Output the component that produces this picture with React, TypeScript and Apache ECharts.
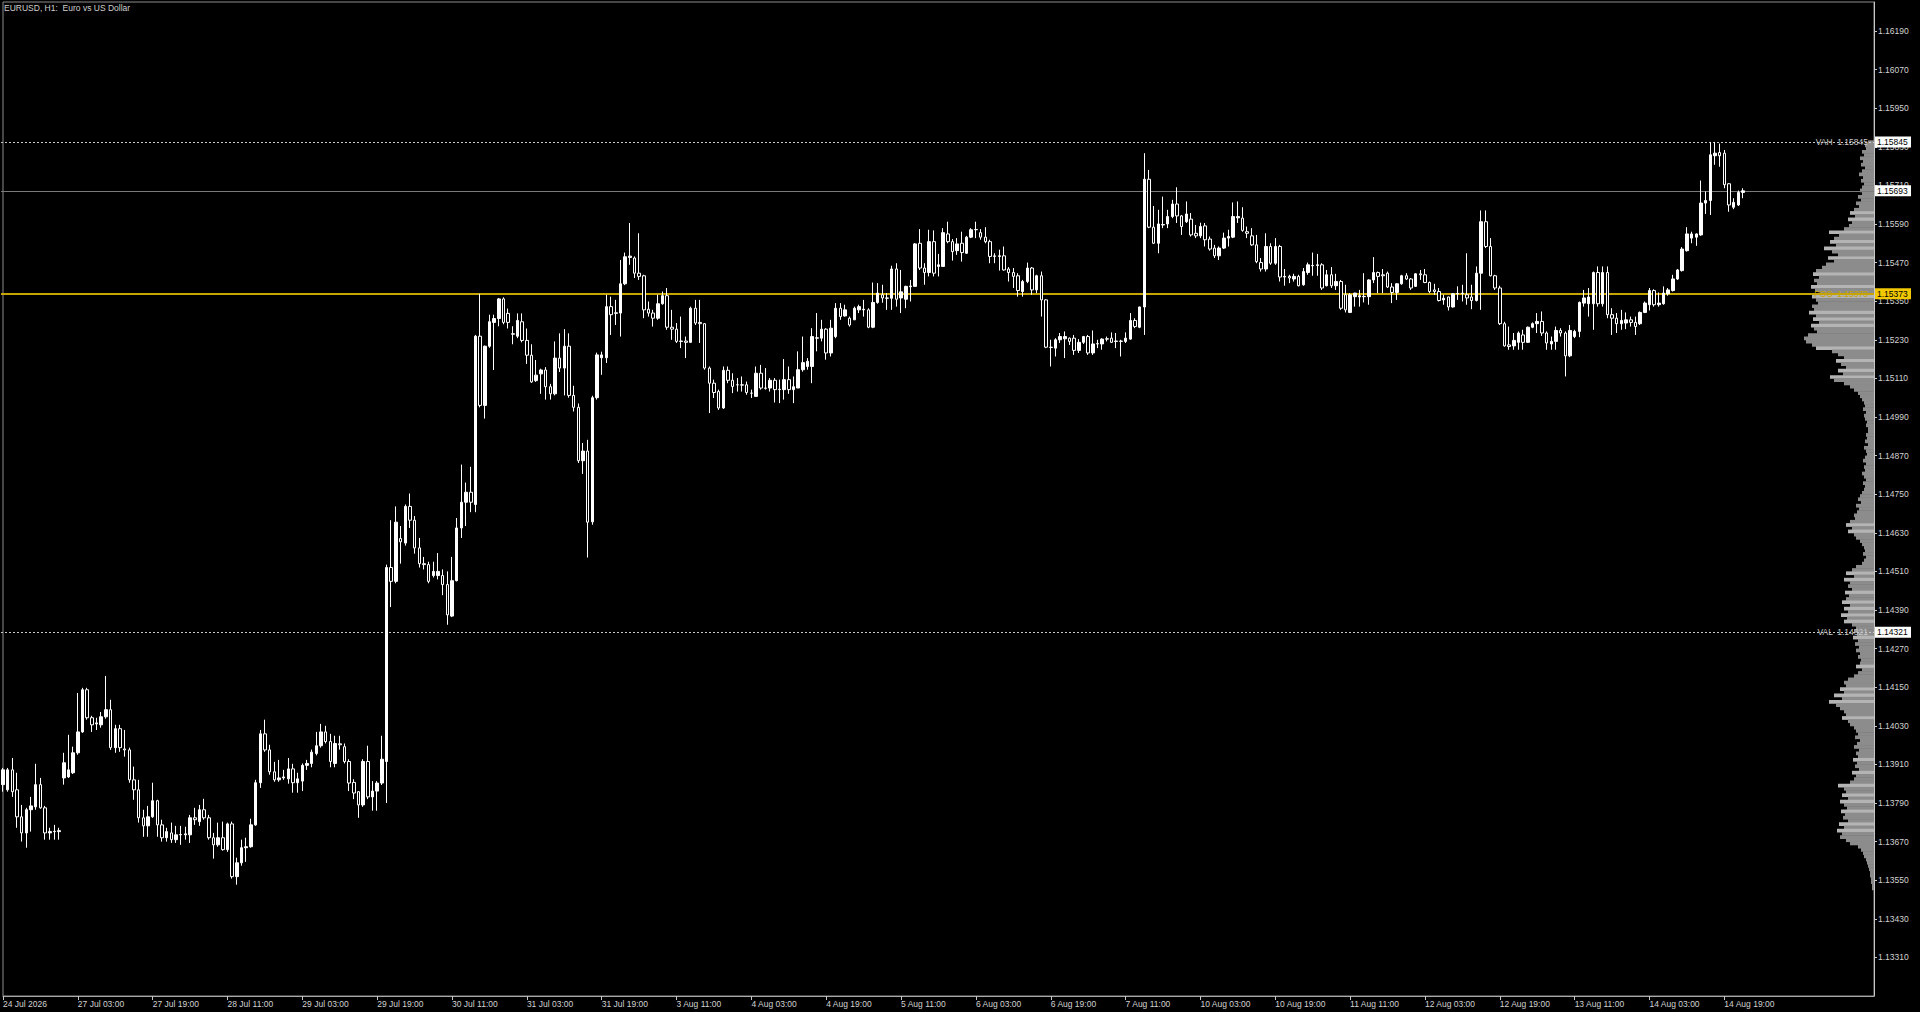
import React, { useEffect, useRef } from "react";
import * as echarts from "echarts";

const TITLE = "EURUSD, H1:  Euro vs US Dollar";

const TIME_LABELS = [
  "24 Jul 2026", "27 Jul 03:00", "27 Jul 19:00", "28 Jul 11:00", "29 Jul 03:00", "29 Jul 19:00",
  "30 Jul 11:00", "31 Jul 03:00", "31 Jul 19:00", "3 Aug 11:00", "4 Aug 03:00", "4 Aug 19:00",
  "5 Aug 11:00", "6 Aug 03:00", "6 Aug 19:00", "7 Aug 11:00", "10 Aug 03:00", "10 Aug 19:00",
  "11 Aug 11:00", "12 Aug 03:00", "12 Aug 19:00", "13 Aug 11:00", "14 Aug 03:00", "14 Aug 19:00",
];
const LABEL_EVERY = 16; // one time label every 16 hourly bars
const SLOT_COUNT = 401; // hourly slots across the visible window (incl. right shift)

const Y_MIN = 1.1319;
const Y_MAX = 1.1628;
const Y_STEP = 0.0012;

// Levels
const VAH = 1.15845;
const BID = 1.15693;
const POC = 1.15373;
const VAL = 1.14321;

// Candles: [open, close, low, high]
const FRI_24_JUL = [
  [1.13847, 1.13893, 1.13825, 1.13899], [1.13831, 1.13893, 1.13825, 1.13899], [1.13893, 1.13825, 1.13809, 1.1393],
  [1.13831, 1.13747, 1.13713, 1.13884], [1.13747, 1.13697, 1.1367, 1.13784], [1.13697, 1.13769, 1.13651, 1.13775],
  [1.13769, 1.13781, 1.13701, 1.13809], [1.13778, 1.13847, 1.13769, 1.13912], [1.13847, 1.13775, 1.13772, 1.13868],
  [1.13775, 1.13697, 1.13676, 1.13781], [1.13697, 1.13701, 1.13676, 1.13713], [1.13701, 1.13702, 1.13676, 1.13722],
  [1.13701, 1.13704, 1.13676, 1.13713],
];

const WEEK_27_JUL = [
  [1.13868, 1.13915, 1.13847, 1.13946], [1.13871, 1.13893, 1.13868, 1.14002], [1.13884, 1.13946, 1.1388, 1.13965],
  [1.13946, 1.14011, 1.1394, 1.14132], [1.14011, 1.14142, 1.14008, 1.14148], [1.14142, 1.14055, 1.14049, 1.14148],
  [1.14055, 1.14033, 1.14011, 1.14061], [1.14036, 1.14039, 1.14017, 1.14055], [1.14033, 1.14058, 1.14024, 1.14073],
  [1.14058, 1.1408, 1.14052, 1.14185], [1.1408, 1.13962, 1.13955, 1.14111], [1.13962, 1.14021, 1.13946, 1.14033],
  [1.14021, 1.13962, 1.13949, 1.14033], [1.13958, 1.13955, 1.13934, 1.14017], [1.13955, 1.13862, 1.13853, 1.13962],
  [1.13862, 1.13831, 1.138, 1.13903], [1.13831, 1.13744, 1.13729, 1.13862], [1.13744, 1.13719, 1.13685, 1.13769],
  [1.13719, 1.13747, 1.13685, 1.13781], [1.13747, 1.13797, 1.13744, 1.13853], [1.13797, 1.13722, 1.13685, 1.138],
  [1.13722, 1.13682, 1.1367, 1.13738], [1.13682, 1.13701, 1.1367, 1.13713], [1.13697, 1.13676, 1.13666, 1.13729],
  [1.13676, 1.13691, 1.13666, 1.13719], [1.13691, 1.13692, 1.1366, 1.13719], [1.13691, 1.13694, 1.13676, 1.13716],
  [1.13691, 1.13744, 1.13666, 1.13753], [1.13744, 1.13738, 1.13722, 1.13775], [1.13732, 1.13769, 1.13719, 1.13784],
  [1.13769, 1.13744, 1.13738, 1.13803], [1.13744, 1.13682, 1.13676, 1.13753], [1.13682, 1.1366, 1.13617, 1.13697],
  [1.1366, 1.13682, 1.13654, 1.13729], [1.13682, 1.13645, 1.13642, 1.13732], [1.13645, 1.13725, 1.13638, 1.13729],
  [1.13725, 1.13561, 1.13555, 1.13732], [1.13561, 1.13604, 1.13536, 1.1362], [1.13604, 1.13651, 1.13595, 1.13676],
  [1.13651, 1.13654, 1.13607, 1.13682], [1.13654, 1.13722, 1.13651, 1.13741], [1.13722, 1.13853, 1.13719, 1.13862],
  [1.13853, 1.14005, 1.13837, 1.14017], [1.14005, 1.13955, 1.13949, 1.14049], [1.13955, 1.13887, 1.13878, 1.13971],
  [1.13887, 1.13862, 1.13856, 1.13918], [1.13862, 1.13868, 1.13856, 1.13924], [1.13868, 1.13871, 1.13862, 1.13893],
  [1.13865, 1.13896, 1.1385, 1.1393], [1.13896, 1.13853, 1.13822, 1.13912], [1.13853, 1.13865, 1.13822, 1.13884],
  [1.13858, 1.13907, 1.13827, 1.13913], [1.13907, 1.13913, 1.13893, 1.13924], [1.13913, 1.13948, 1.13901, 1.13956],
  [1.13944, 1.13968, 1.13938, 1.14011], [1.13968, 1.14011, 1.13962, 1.14036], [1.14011, 1.13981, 1.13975, 1.1403],
  [1.13981, 1.13919, 1.13901, 1.14005], [1.13913, 1.13975, 1.13901, 1.13999], [1.13974, 1.13971, 1.13956, 1.13999],
  [1.13965, 1.13919, 1.13913, 1.13975], [1.13919, 1.13852, 1.13827, 1.13926], [1.13854, 1.13821, 1.13802, 1.13864],
  [1.13825, 1.13784, 1.13744, 1.13827], [1.13784, 1.13919, 1.13778, 1.13926], [1.13919, 1.13809, 1.13802, 1.13968],
  [1.13809, 1.13827, 1.13766, 1.13858], [1.13827, 1.13852, 1.13766, 1.13858], [1.13852, 1.13926, 1.13846, 1.13999],
  [1.13919, 1.14522, 1.1379, 1.14531], [1.14522, 1.14479, 1.14399, 1.14669], [1.14479, 1.14663, 1.14473, 1.14712],
  [1.14612, 1.14602, 1.14534, 1.14651], [1.14598, 1.14712, 1.1459, 1.14718], [1.14712, 1.14669, 1.14645, 1.14752],
  [1.14669, 1.14583, 1.14565, 1.14682], [1.14583, 1.14534, 1.14522, 1.14614], [1.14534, 1.14531, 1.14516, 1.14555],
  [1.14531, 1.14479, 1.14473, 1.1454], [1.14497, 1.1451, 1.14491, 1.1454], [1.14497, 1.1451, 1.14485, 1.14567],
  [1.14497, 1.14469, 1.14436, 1.14516], [1.14469, 1.14375, 1.14344, 1.1451], [1.14371, 1.14481, 1.14368, 1.14555],
  [1.14481, 1.14645, 1.14479, 1.14676], [1.14645, 1.14725, 1.14614, 1.14842], [1.14725, 1.14756, 1.14651, 1.14786],
  [1.14756, 1.14725, 1.14694, 1.14835], [1.14718, 1.15241, 1.14694, 1.15245], [1.15241, 1.15026, 1.1502, 1.15373],
  [1.15026, 1.1521, 1.14985, 1.15212], [1.1521, 1.15286, 1.15205, 1.15308], [1.15284, 1.15296, 1.15136, 1.15308],
  [1.15296, 1.15357, 1.15272, 1.1536], [1.15357, 1.15284, 1.15278, 1.15362], [1.15312, 1.15284, 1.15265, 1.15327],
  [1.15249, 1.15247, 1.15216, 1.15272], [1.15241, 1.1529, 1.15235, 1.15312], [1.15286, 1.15228, 1.15222, 1.15312],
  [1.15228, 1.15182, 1.15155, 1.15265], [1.15182, 1.15099, 1.15096, 1.15216], [1.15103, 1.1512, 1.15099, 1.15167],
  [1.15124, 1.15136, 1.15062, 1.1514], [1.15136, 1.15084, 1.15044, 1.15145], [1.15084, 1.15062, 1.15044, 1.15093],
  [1.15062, 1.15173, 1.15057, 1.15225], [1.15173, 1.15142, 1.1513, 1.1525], [1.15142, 1.1521, 1.15057, 1.15263],
  [1.1521, 1.15057, 1.1505, 1.1525], [1.15057, 1.1502, 1.15007, 1.15087], [1.1502, 1.14854, 1.14847, 1.15032],
  [1.14854, 1.14884, 1.14813, 1.14909], [1.14884, 1.14663, 1.14553, 1.14919], [1.14664, 1.1505, 1.14655, 1.15056],
  [1.1505, 1.15183, 1.15044, 1.1519], [1.15174, 1.15183, 1.15121, 1.15193], [1.15174, 1.15333, 1.15158, 1.1537],
  [1.15333, 1.15308, 1.15245, 1.15364], [1.15314, 1.15312, 1.15276, 1.15354], [1.15313, 1.15404, 1.1524, 1.15478],
];

const WEEK_3_AUG = [
  [1.15404, 1.15488, 1.154, 1.15501], [1.15486, 1.1549, 1.15463, 1.15593], [1.15484, 1.15437, 1.15422, 1.15489],
  [1.15437, 1.15427, 1.15416, 1.15561], [1.15429, 1.15323, 1.15297, 1.15432], [1.15325, 1.15313, 1.15302, 1.15349],
  [1.15313, 1.15297, 1.15271, 1.15323], [1.15297, 1.15342, 1.15292, 1.1537], [1.15342, 1.15367, 1.15339, 1.1538],
  [1.15367, 1.15269, 1.15261, 1.15391], [1.15269, 1.15263, 1.1523, 1.15323], [1.15263, 1.15225, 1.1522, 1.15282],
  [1.15225, 1.15226, 1.15204, 1.15302], [1.15226, 1.15222, 1.15173, 1.1524], [1.15222, 1.15328, 1.1522, 1.15333],
  [1.15328, 1.15282, 1.15276, 1.15354], [1.15284, 1.1528, 1.1522, 1.15354], [1.1528, 1.15142, 1.15137, 1.15282],
  [1.15142, 1.15095, 1.15002, 1.15147], [1.15095, 1.15066, 1.15049, 1.15106], [1.15069, 1.15018, 1.15012, 1.15075],
  [1.15018, 1.15135, 1.15015, 1.15147], [1.15135, 1.15104, 1.15095, 1.15147], [1.15104, 1.15085, 1.15064, 1.15126],
  [1.1509, 1.1509, 1.15069, 1.15111], [1.1509, 1.15089, 1.15069, 1.15116], [1.1509, 1.15066, 1.15059, 1.151],
  [1.15064, 1.15064, 1.15049, 1.15075], [1.15054, 1.15126, 1.15054, 1.15147], [1.15126, 1.1508, 1.15075, 1.15152],
  [1.1508, 1.15079, 1.15075, 1.15142], [1.1508, 1.15104, 1.15069, 1.15111], [1.15104, 1.15075, 1.15035, 1.15111],
  [1.15075, 1.15076, 1.15033, 1.15106], [1.15075, 1.15106, 1.15044, 1.1517], [1.15106, 1.15075, 1.15062, 1.15147],
  [1.15075, 1.15084, 1.15033, 1.15116], [1.1508, 1.15137, 1.1508, 1.15194], [1.15137, 1.15159, 1.15131, 1.1524],
  [1.15147, 1.15163, 1.15137, 1.15173], [1.15147, 1.1524, 1.15095, 1.15266], [1.15235, 1.15236, 1.15194, 1.15313],
  [1.15235, 1.15263, 1.15225, 1.15292], [1.15263, 1.15189, 1.15168, 1.15266], [1.15189, 1.15266, 1.15178, 1.15292],
  [1.1524, 1.15328, 1.15235, 1.15344], [1.15328, 1.15302, 1.15292, 1.15344], [1.15304, 1.15323, 1.15302, 1.15339],
  [1.15297, 1.15276, 1.15271, 1.15302], [1.15292, 1.15328, 1.15292, 1.15333], [1.15323, 1.15333, 1.15313, 1.15339],
  [1.15323, 1.15325, 1.15302, 1.15354], [1.15323, 1.15269, 1.15266, 1.15328], [1.15269, 1.15346, 1.15266, 1.15408],
  [1.15346, 1.15375, 1.15342, 1.15406], [1.1537, 1.1536, 1.15345, 1.15401], [1.1536, 1.15359, 1.15323, 1.15375],
  [1.15359, 1.1545, 1.15323, 1.1546], [1.1545, 1.15356, 1.15333, 1.15468], [1.1536, 1.15379, 1.15313, 1.15447],
  [1.15356, 1.15396, 1.15328, 1.15398], [1.15395, 1.15397, 1.15349, 1.15416], [1.15396, 1.15528, 1.15395, 1.15531],
  [1.1553, 1.15453, 1.15447, 1.15574], [1.15453, 1.15439, 1.15401, 1.15468], [1.15439, 1.15535, 1.15427, 1.15572],
  [1.15535, 1.15437, 1.15427, 1.1557], [1.15458, 1.15463, 1.15427, 1.15497], [1.15458, 1.15563, 1.15458, 1.15577],
  [1.15559, 1.15535, 1.1553, 1.15597], [1.15535, 1.15504, 1.15476, 1.15543], [1.15507, 1.15528, 1.15494, 1.15546],
  [1.1553, 1.15501, 1.15473, 1.15566], [1.15499, 1.15549, 1.15497, 1.15553], [1.15549, 1.15572, 1.15546, 1.15577],
  [1.15572, 1.15573, 1.15546, 1.15597], [1.15563, 1.15549, 1.15541, 1.15574], [1.15549, 1.15535, 1.1553, 1.1558],
  [1.15535, 1.15489, 1.15468, 1.15541], [1.15491, 1.15489, 1.15468, 1.15499], [1.15489, 1.15491, 1.15445, 1.1551],
  [1.15491, 1.15447, 1.15445, 1.1552], [1.1545, 1.15439, 1.15411, 1.15456], [1.15439, 1.15427, 1.15391, 1.15453],
  [1.15429, 1.15383, 1.15364, 1.15437], [1.1538, 1.15411, 1.15364, 1.15416], [1.15411, 1.15453, 1.15406, 1.1547],
  [1.15453, 1.15385, 1.1537, 1.15456], [1.15385, 1.15429, 1.15375, 1.15432], [1.15429, 1.15354, 1.15302, 1.15442],
  [1.15354, 1.15207, 1.15204, 1.15356], [1.15207, 1.15206, 1.15147, 1.1523], [1.15204, 1.1523, 1.15178, 1.15235],
  [1.1523, 1.1524, 1.1522, 1.15251], [1.15233, 1.1524, 1.15173, 1.15256], [1.15235, 1.15225, 1.15214, 1.15237],
  [1.15235, 1.15197, 1.15183, 1.15245], [1.15197, 1.15222, 1.15189, 1.15232], [1.15222, 1.1524, 1.15217, 1.15242],
  [1.1524, 1.15189, 1.15183, 1.15245], [1.15189, 1.15217, 1.15183, 1.15259], [1.15217, 1.15218, 1.15204, 1.1523],
  [1.15217, 1.15232, 1.15199, 1.15235], [1.15232, 1.15233, 1.15225, 1.1524], [1.15235, 1.15222, 1.1522, 1.15253],
  [1.15225, 1.15226, 1.15204, 1.15251], [1.15226, 1.15225, 1.15178, 1.1523], [1.15225, 1.15235, 1.1522, 1.15253],
  [1.15232, 1.1529, 1.1523, 1.15313], [1.1529, 1.15271, 1.15266, 1.15297], [1.15269, 1.15332, 1.15266, 1.15333],
  [1.15332, 1.15729, 1.15245, 1.1581], [1.15729, 1.1558, 1.15577, 1.15758], [1.1558, 1.1553, 1.15528, 1.15646],
  [1.1553, 1.1559, 1.15499, 1.15634], [1.15587, 1.15588, 1.15577, 1.15675], [1.1559, 1.15613, 1.15577, 1.15634],
  [1.15613, 1.15652, 1.15608, 1.15665], [1.15652, 1.15615, 1.15593, 1.15704], [1.15615, 1.15582, 1.15556, 1.15618],
];

const WEEK_10_AUG = [
  [1.15597, 1.15621, 1.15593, 1.1566], [1.15605, 1.15556, 1.15551, 1.15624], [1.15561, 1.15553, 1.15546, 1.15587],
  [1.15553, 1.15582, 1.15546, 1.15594], [1.15584, 1.15541, 1.1552, 1.15593], [1.15543, 1.15512, 1.15507, 1.15551],
  [1.15515, 1.15491, 1.15484, 1.15525], [1.15491, 1.15515, 1.15478, 1.1552], [1.15515, 1.15546, 1.15512, 1.15563],
  [1.15546, 1.15551, 1.1552, 1.15572], [1.15549, 1.15613, 1.15546, 1.15657], [1.15609, 1.15613, 1.15593, 1.1566],
  [1.15608, 1.1557, 1.15566, 1.15642], [1.15566, 1.15561, 1.15546, 1.15582], [1.15553, 1.15525, 1.15522, 1.15577],
  [1.15525, 1.15473, 1.15468, 1.15556], [1.1547, 1.1545, 1.15442, 1.15484], [1.1545, 1.1552, 1.15442, 1.15561],
  [1.1552, 1.15468, 1.15463, 1.1553], [1.15468, 1.1552, 1.15463, 1.15546], [1.1552, 1.15425, 1.15411, 1.15525],
  [1.15425, 1.15427, 1.15398, 1.1545], [1.15427, 1.15422, 1.15406, 1.15432], [1.15419, 1.15427, 1.15411, 1.15435],
  [1.15427, 1.15398, 1.15396, 1.15432], [1.15401, 1.15442, 1.15398, 1.15453], [1.15439, 1.15463, 1.15432, 1.1547],
  [1.1546, 1.15461, 1.15429, 1.15501], [1.15461, 1.15463, 1.15429, 1.15497], [1.15463, 1.15391, 1.15385, 1.15468],
  [1.15398, 1.15432, 1.15396, 1.15447], [1.15432, 1.15398, 1.15391, 1.15456], [1.15398, 1.15411, 1.15385, 1.15435],
  [1.15411, 1.15328, 1.15323, 1.15416], [1.1537, 1.15323, 1.15315, 1.15401], [1.15315, 1.1537, 1.15313, 1.15375],
  [1.15364, 1.15375, 1.15333, 1.15376], [1.15363, 1.15367, 1.15333, 1.15385], [1.15364, 1.15365, 1.15346, 1.15437],
  [1.15364, 1.15416, 1.15339, 1.15418], [1.15416, 1.15439, 1.15406, 1.15487], [1.15439, 1.15427, 1.15375, 1.15442],
  [1.15432, 1.15429, 1.15375, 1.1545], [1.15437, 1.15394, 1.15391, 1.15442], [1.15394, 1.15377, 1.15344, 1.15406],
  [1.15377, 1.15404, 1.15354, 1.15406], [1.15404, 1.15429, 1.15401, 1.15432], [1.15429, 1.15419, 1.15416, 1.15437],
  [1.15419, 1.15391, 1.15385, 1.15422], [1.15396, 1.15435, 1.15394, 1.15437], [1.15435, 1.15432, 1.15416, 1.15447],
  [1.15432, 1.15408, 1.15406, 1.1545], [1.15408, 1.1538, 1.15375, 1.15411], [1.15385, 1.1538, 1.1537, 1.15404],
  [1.1538, 1.15352, 1.15349, 1.15391], [1.15354, 1.15359, 1.15339, 1.1537], [1.15363, 1.15332, 1.15321, 1.15364],
  [1.15332, 1.15373, 1.1533, 1.15375], [1.15373, 1.15374, 1.15354, 1.15396], [1.15374, 1.15375, 1.15349, 1.15401],
  [1.1537, 1.1536, 1.15339, 1.15499], [1.15363, 1.15352, 1.15325, 1.15401], [1.15352, 1.15437, 1.15349, 1.15458],
  [1.15437, 1.15597, 1.15323, 1.15632], [1.15597, 1.1552, 1.15515, 1.15632], [1.1552, 1.15429, 1.15427, 1.15546],
  [1.15429, 1.15391, 1.15385, 1.15432], [1.15391, 1.1528, 1.15276, 1.15398], [1.1528, 1.15211, 1.15209, 1.15286],
  [1.15214, 1.15209, 1.15199, 1.15271], [1.15211, 1.15228, 1.15199, 1.15251], [1.15222, 1.15251, 1.15199, 1.15256],
  [1.15245, 1.15222, 1.15199, 1.15261], [1.15222, 1.15269, 1.1522, 1.15271], [1.15269, 1.1528, 1.15266, 1.15284],
  [1.1528, 1.15287, 1.15251, 1.15313], [1.15287, 1.15251, 1.15242, 1.15318], [1.15251, 1.1522, 1.15199, 1.15256],
  [1.15217, 1.15225, 1.15199, 1.1524], [1.15225, 1.15259, 1.15199, 1.15271], [1.15259, 1.15251, 1.1524, 1.15266],
  [1.15251, 1.1518, 1.15116, 1.15256], [1.1518, 1.15259, 1.15176, 1.15276], [1.1524, 1.15256, 1.15235, 1.15261],
  [1.15256, 1.15346, 1.15238, 1.15349], [1.15344, 1.1536, 1.15333, 1.15385], [1.15342, 1.15363, 1.15302, 1.15391],
  [1.15342, 1.15439, 1.15261, 1.15442], [1.15439, 1.15342, 1.15333, 1.15458], [1.15342, 1.15439, 1.15333, 1.15458],
  [1.15439, 1.15308, 1.15297, 1.15458], [1.15308, 1.15297, 1.15245, 1.15328], [1.15297, 1.1528, 1.15251, 1.15313],
  [1.1528, 1.1529, 1.15261, 1.15323], [1.15282, 1.15292, 1.15263, 1.15315], [1.15292, 1.15284, 1.15271, 1.15302],
  [1.15284, 1.15271, 1.15245, 1.15302], [1.1528, 1.15315, 1.15276, 1.15318], [1.15315, 1.15344, 1.15313, 1.15349],
  [1.15339, 1.15383, 1.15321, 1.15391], [1.15383, 1.15339, 1.15333, 1.15387], [1.15339, 1.15344, 1.15333, 1.15377],
  [1.15342, 1.15375, 1.15339, 1.15396], [1.15373, 1.15385, 1.15367, 1.15391], [1.15383, 1.15419, 1.1538, 1.15432],
  [1.15419, 1.15447, 1.15416, 1.1545], [1.15445, 1.15512, 1.15442, 1.15518], [1.15507, 1.15559, 1.15504, 1.1558],
  [1.15546, 1.15559, 1.1553, 1.15566], [1.15549, 1.15559, 1.15522, 1.15561], [1.15556, 1.15655, 1.15553, 1.15725],
  [1.15655, 1.15663, 1.15621, 1.15691], [1.15663, 1.15805, 1.15618, 1.15845], [1.15802, 1.1581, 1.15774, 1.15845],
  [1.15812, 1.15802, 1.15768, 1.1584], [1.1581, 1.15712, 1.15701, 1.1582], [1.15715, 1.15649, 1.15628, 1.15717],
  [1.15642, 1.15657, 1.15636, 1.1567], [1.15649, 1.15688, 1.15646, 1.15694], [1.15688, 1.15693, 1.1567, 1.15701],
];

// Volume profile: price levels from PROFILE_TOP downwards every PROFILE_STEP
const PROFILE_TOP = 1.15845;
const PROFILE_STEP = 0.0001;
const PROFILE_WIDTHS = [
  6, 9, 8,
  12, 10, 14, 11, 13, 9, 12, 15, 11, 13, 10, 12,
  14, 12, 16, 13, 18, 15,
  20, 24, 19, 26, 22, 25,
  30, 45, 35, 40,
  44, 38, 50, 42, 36, 46, 40, 48,
  52, 58, 61, 55, 60, 57, 63, 59, 54, 62, 58,
  56, 62, 60, 65, 58, 61, 55, 63, 60, 57,
  66, 70, 68, 62, 58,
  42, 36, 30, 38, 33, 28, 36, 31, 44,
  40, 30, 24, 20, 16, 14,
  12, 10, 9, 11, 8, 10, 9, 7, 8, 6,
  6, 8, 7, 9, 6, 10, 8, 7, 9, 11, 8, 10, 9, 12, 10, 8, 11, 9, 10,
  12, 14, 16, 13, 18, 15, 17, 20, 19,
  24, 28, 22, 26, 20, 18,
  14, 12, 10, 9, 11, 8, 10, 12,
  18, 22, 28, 20, 30, 24, 26, 22, 29, 25,
  28, 32, 24, 30, 26, 33, 27, 30,
  22, 18, 20, 17, 21, 16, 19, 15, 18, 14, 16, 13,
  14, 18, 12, 16, 20,
  26, 30, 28, 34, 30, 40, 32, 45,
  38, 34, 30, 28, 32, 26, 24, 20,
  18, 16, 19, 14, 17, 20, 15, 18, 16, 21, 17, 19, 15, 22, 18, 20, 24,
  36, 30,
  28, 32, 26, 34, 30, 27, 33, 29, 31, 26, 35, 30, 37, 32, 34, 28, 24,
  16, 13, 11, 10, 8, 7, 6, 5, 4, 4, 3, 3, 2, 2,
];

const FONT = "'Liberation Sans', Arial, sans-serif";

export default function App() {
  const ref = useRef<HTMLDivElement>(null);

  useEffect(() => {
    document.body.style.margin = "0";
    document.body.style.background = "#000";
    const chart = echarts.init(ref.current!, null, { renderer: "svg" });

    const candles = [...FRI_24_JUL, ...WEEK_27_JUL, ...WEEK_3_AUG, ...WEEK_10_AUG];
    const categories = Array.from({ length: SLOT_COUNT }, (_, i) => String(i));
    const profileData = PROFILE_WIDTHS.map((w, k) => [PROFILE_TOP - k * PROFILE_STEP, w]);
    const isLabelSlot = (i: number) => i % LABEL_EVERY === 0 && i / LABEL_EVERY < TIME_LABELS.length;

    chart.setOption({
      animation: false,
      backgroundColor: "#000000",
      grid: [
        { left: 1, top: 2, width: 1873, height: 994, show: true, borderColor: "#8c8c8c", borderWidth: 1, backgroundColor: "transparent" },
        { left: 1774, top: 2, width: 100, height: 994 },
      ],
      xAxis: [
        {
          type: "category",
          gridIndex: 0,
          data: categories,
          boundaryGap: false,
          axisLine: { show: true, lineStyle: { color: "#a8a8a8" } },
          axisTick: { show: true, interval: (i: number) => isLabelSlot(i), length: 4, lineStyle: { color: "#c8c8c8" } },
          axisLabel: {
            interval: (i: number) => isLabelSlot(i),
            formatter: (_v: string, i: number) => TIME_LABELS[i / LABEL_EVERY] ?? "",
            align: "left",
            margin: 3,
            color: "#d2d2d2",
            fontSize: 8.5,
            fontFamily: FONT,
          },
          splitLine: { show: false },
        },
        { type: "value", gridIndex: 1, min: 0, max: 100, inverse: true, show: false },
      ],
      yAxis: [
        {
          type: "value",
          gridIndex: 0,
          position: "right",
          min: Y_MIN,
          max: Y_MAX,
          interval: Y_STEP,
          axisLine: { show: true, lineStyle: { color: "#c8c8c8" } },
          axisTick: { show: true, length: 3, lineStyle: { color: "#c8c8c8" } },
          axisLabel: {
            showMinLabel: false,
            showMaxLabel: false,
            margin: 4,
            color: "#d2d2d2",
            fontSize: 8.5,
            fontFamily: FONT,
            formatter: (v: number) => v.toFixed(5),
          },
          splitLine: { show: false },
        },
        { type: "value", gridIndex: 1, min: Y_MIN, max: Y_MAX, show: false },
      ],
      series: [
        {
          type: "custom",
          xAxisIndex: 1,
          yAxisIndex: 1,
          z: 1,
          silent: true,
          data: profileData,
          encode: { x: 1, y: 0 },
          renderItem: (params: any, api: any) => {
            const p = api.value(0) as number;
            const w = api.value(1) as number;
            const k = params.dataIndex;
            const prev = PROFILE_WIDTHS[k - 1] ?? w;
            const next = PROFILE_WIDTHS[k + 1] ?? w;
            const bright = w > (prev + next) / 2 + 4;
            const a = api.coord([w, p + PROFILE_STEP / 2]);
            const b = api.coord([0, p - PROFILE_STEP / 2]);
            return {
              type: "rect",
              shape: { x: a[0], y: a[1], width: b[0] - a[0], height: b[1] - a[1] + 0.5 },
              style: { fill: bright ? "#b4b4b4" : "#8c8c8c" },
            };
          },
        },
        {
          type: "candlestick",
          xAxisIndex: 0,
          yAxisIndex: 0,
          z: 5,
          barWidth: 3,
          data: candles,
          itemStyle: {
            color: "#ffffff",
            color0: "#000000",
            borderColor: "#ffffff",
            borderColor0: "#ffffff",
            borderWidth: 1,
          },
        },
      ],
    });

    const yOf = (v: number) => chart.convertToPixel({ yAxisIndex: 0 }, v) as number;
    const hLine = (value: number, color: string, width: number, dash: number[] | null) => ({
      type: "line",
      z: 2,
      silent: true,
      shape: { x1: 1, y1: Math.round(yOf(value)) + (width % 2 ? 0.5 : 0), x2: 1874, y2: Math.round(yOf(value)) + (width % 2 ? 0.5 : 0) },
      style: { stroke: color, lineWidth: width, lineDash: dash ?? undefined },
    });
    const lineText = (name: string, value: number, color: string) => ({
      type: "text",
      x: 1868,
      y: yOf(value),
      z: 100,
      style: {
        text: `${name}  ${value.toFixed(5)}`,
        fill: color,
        font: `8.5px ${FONT}`,
        align: "right",
        verticalAlign: "middle",
        textAlign: "right",
        textVerticalAlign: "middle",
      },
    });
    const tag = (value: number, bg: string) => [
      {
        type: "rect",
        z: 100,
        shape: { x: 1875, y: yOf(value) - 5.5, width: 36, height: 11 },
        style: { fill: bg },
      },
      {
        type: "text",
        x: 1877,
        y: yOf(value),
        z: 101,
        style: {
          text: value.toFixed(5),
          fill: "#000000",
          font: `8.5px ${FONT}`,
          verticalAlign: "middle",
          textVerticalAlign: "middle",
        },
      },
    ];

    chart.setOption({
      graphic: [
        {
          type: "text",
          x: 4,
          y: 3,
          z: 100,
          style: { text: TITLE, fill: "#cfcfcf", font: `8.5px ${FONT}` },
        },
        hLine(VAH, "#c8c8c8", 1, [2, 2]),
        hLine(BID, "#7a7a7a", 1, null),
        hLine(POC, "#c8a400", 2, null),
        hLine(VAL, "#c8c8c8", 1, [2, 2]),
        lineText("VAH", VAH, "#c8c8c8"),
        lineText("POC", POC, "#c8a400"),
        lineText("VAL", VAL, "#c8c8c8"),
        ...tag(VAH, "#ffffff"),
        ...tag(BID, "#ffffff"),
        ...tag(POC, "#f2c800"),
        ...tag(VAL, "#ffffff"),
      ],
    });

    return () => chart.dispose();
  }, []);

  return (
    <div
      ref={ref}
      style={{ position: "fixed", left: 0, top: 0, width: 1920, height: 1012, background: "#000" }}
    />
  );
}
